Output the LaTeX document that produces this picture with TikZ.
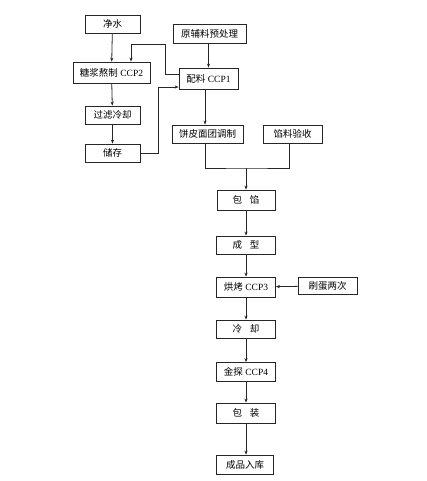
\documentclass[tikz,border=0pt]{standalone}
\usepackage{fontspec}
\setmainfont{Liberation Serif}
\newfontfamily\cjk{Noto Sans CJK SC}
\usetikzlibrary{arrows.meta}
\begin{document}
\begin{tikzpicture}[x=1pt,y=-1pt,
  box/.style={draw=black!85,line width=0.8pt,inner sep=0pt,font=\fontsize{9.5}{11}\selectfont},
  arr/.style={draw=black!85,line width=0.8pt,-{Stealth[length=4pt,width=3.2pt]}},
  ln/.style={draw=black!85,line width=0.8pt}]
\useasboundingbox (0,0) rectangle (427,481);
\node[box,minimum width=55pt,minimum height=18pt] (jingshui) at (112.5,24) {\cjk 净水};
\node[box,minimum width=73pt,minimum height=19pt] (yuanfu) at (209.5,33.5) {\cjk 原辅料预处理};
\node[box,minimum width=77pt,minimum height=21pt] (tangjiang) at (111.5,72.5) {{\cjk 糖浆熬制} CCP2};
\node[box,minimum width=59pt,minimum height=21pt] (peiliao) at (208.5,78.5) {{\cjk 配料} CCP1};
\node[box,minimum width=55pt,minimum height=18pt] (guolv) at (112.5,115) {\cjk 过滤冷却};
\node[box,minimum width=55pt,minimum height=18pt] (chucun) at (112.5,153) {\cjk 储存};
\node[box,minimum width=71pt,minimum height=18pt] (bingpi) at (207.5,134) {\cjk 饼皮面团调制};
\node[box,minimum width=59pt,minimum height=18pt] (xianliao) at (292.5,134) {\cjk 馅料验收};
\node[box,minimum width=58pt,minimum height=20pt] (baoxian) at (246,200) {\cjk 包\hspace{0.8em}馅};
\node[box,minimum width=59pt,minimum height=18pt] (chengxing) at (246,245) {\cjk 成\hspace{0.8em}型};
\node[box,minimum width=59pt,minimum height=20pt] (hongkao) at (246,287) {{\cjk 烘烤} CCP3};
\node[box,minimum width=59pt,minimum height=17pt] (shuadan) at (327.5,286) {\cjk 刷蛋两次};
\node[box,minimum width=59pt,minimum height=18pt] (lengque) at (246,329) {\cjk 冷\hspace{0.8em}却};
\node[box,minimum width=59pt,minimum height=19pt] (jintan) at (246,372) {{\cjk 金探} CCP4};
\node[box,minimum width=59pt,minimum height=20pt] (baozhuang) at (246,413) {\cjk 包\hspace{0.8em}装};
\node[box,minimum width=57pt,minimum height=19pt] (chengpin) at (245,464.5) {\cjk 成品入库};
\coordinate (m) at (246,168);
% left column
\draw[arr] (jingshui) -- (tangjiang);
\draw[arr] (tangjiang) -- (guolv);
\draw[arr] (guolv) -- (chucun);
\draw[arr] (chucun.east) -- ++(18,0) |- ([yshift=-8.5pt]peiliao.west);
\draw[arr] ([yshift=4.5pt]peiliao.west) -| (165,44) -| ([xshift=19.5pt]tangjiang.north);
% right column
\draw[arr] (yuanfu.south -| peiliao) -- (peiliao);
\draw[arr] (peiliao.south -| 205,0) -- (bingpi.north -| 205,0);
\draw[ln] (bingpi.south -| 205,0) |- (m) -| (xianliao.south -| 289,0);
\draw[arr] (m) -- (baoxian);
\draw[arr] (baoxian) -- (chengxing);
\draw[arr] (chengxing) -- (hongkao);
\draw[arr] (shuadan) -- (hongkao);
\draw[arr] (hongkao) -- (lengque);
\draw[arr] (lengque) -- (jintan);
\draw[arr] (jintan) -- (baozhuang);
\draw[arr] (baozhuang) -- (chengpin.north -| baozhuang);
\end{tikzpicture}
\end{document}
